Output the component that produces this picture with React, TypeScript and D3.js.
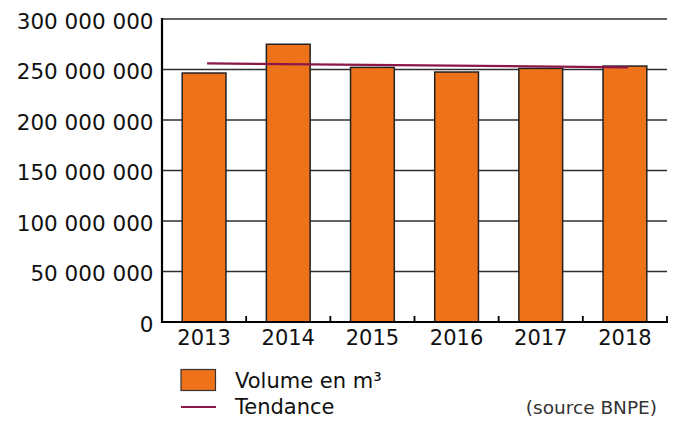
import { useEffect } from 'react';
import * as d3 from 'd3';

const YEARS = ['2013', '2014', '2015', '2016', '2017', '2018'];
const VOLUMES = [246.5e6, 275e6, 252.1e6, 247.5e6, 251.1e6, 253.4e6];
const TREND_YEARS = ['2013', '2018'];
const TREND_VALUES = [256.1e6, 252.2e6];
const Y_TICKS = [0, 50e6, 100e6, 150e6, 200e6, 250e6, 300e6];

const ORANGE = '#ee7219';
const TREND = '#8b1748';
const FONT = '"DejaVu Sans", sans-serif';

const fmt = (v: number) => d3.format(',')(v).replace(/,/g, ' ');

export default function App() {
  useEffect(() => {
    document.body.style.margin = '0';
  }, []);

  const W = 700, H = 428;
  const m = { left: 162, right: 33, top: 19, bottom: 106 };
  const x = d3.scaleBand().domain(YEARS).range([m.left, W - m.right]).padding(0);
  const y = d3.scaleLinear().domain([0, 300e6]).range([H - m.bottom, m.top]);
  const bw = x.bandwidth() * 0.52;
  const x0 = m.left, x1 = W - m.right, yb = y(0);

  const trendLine = d3.line<number>()
    .x((_, i) => (x(TREND_YEARS[i]) as number) + x.bandwidth() / 2 + 3)
    .y(d => y(d));

  return (
    <svg width={W} height={H} style={{ display: 'block', fontFamily: FONT }}>
      {/* grid */}
      {Y_TICKS.filter(t => t > 0).map(t => (
        <line key={t} x1={x0} x2={x1} y1={y(t)} y2={y(t)} stroke="#2e2e2e" strokeWidth={1.6} />
      ))}
      {/* y labels */}
      {Y_TICKS.map(t => (
        <text key={t} x={153.5} y={y(t) + 9.5} textAnchor="end" fontSize={21.5} fill="#111">{fmt(t)}</text>
      ))}
      {/* bars */}
      {VOLUMES.map((v, i) => {
        const cx = (x(YEARS[i]) as number) + x.bandwidth() / 2;
        return (
          <rect key={YEARS[i]} x={cx - bw / 2} y={y(v)} width={bw} height={yb - y(v)}
            fill={ORANGE} stroke="#222" strokeWidth={1.5} />
        );
      })}
      {/* trend */}
      <path d={trendLine(TREND_VALUES) || ''} fill="none" stroke={TREND} strokeWidth={2.2} />
      {/* axes */}
      <line x1={x0} x2={x0} y1={m.top - 1} y2={yb + 1} stroke="#000" strokeWidth={2.2} />
      <line x1={x0 - 1} x2={x1 + 1} y1={yb} y2={yb} stroke="#000" strokeWidth={2.2} />
      {YEARS.map(yr => {
        const bx = (x(yr) as number) + x.bandwidth();
        return <line key={yr} x1={bx} x2={bx} y1={yb} y2={yb - 6} stroke="#000" strokeWidth={1.8} />;
      })}
      {YEARS.map(yr => (
        <text key={yr} x={(x(yr) as number) + x.bandwidth() / 2} y={345} textAnchor="middle"
          fontSize={21} fill="#111">{yr}</text>
      ))}
      {/* legend */}
      <rect x={181} y={369.5} width={34.5} height={21} fill={ORANGE} stroke="#333" strokeWidth={1.2} />
      <text x={235} y={388} fontSize={21} fill="#111">Volume en m³</text>
      <line x1={181} x2={216} y1={407} y2={407} stroke={TREND} strokeWidth={2} />
      <text x={235} y={414} fontSize={21} fill="#111">Tendance</text>
      <text x={657} y={414} textAnchor="end" fontSize={18.5} fill="#333">(source BNPE)</text>
    </svg>
  );
}
